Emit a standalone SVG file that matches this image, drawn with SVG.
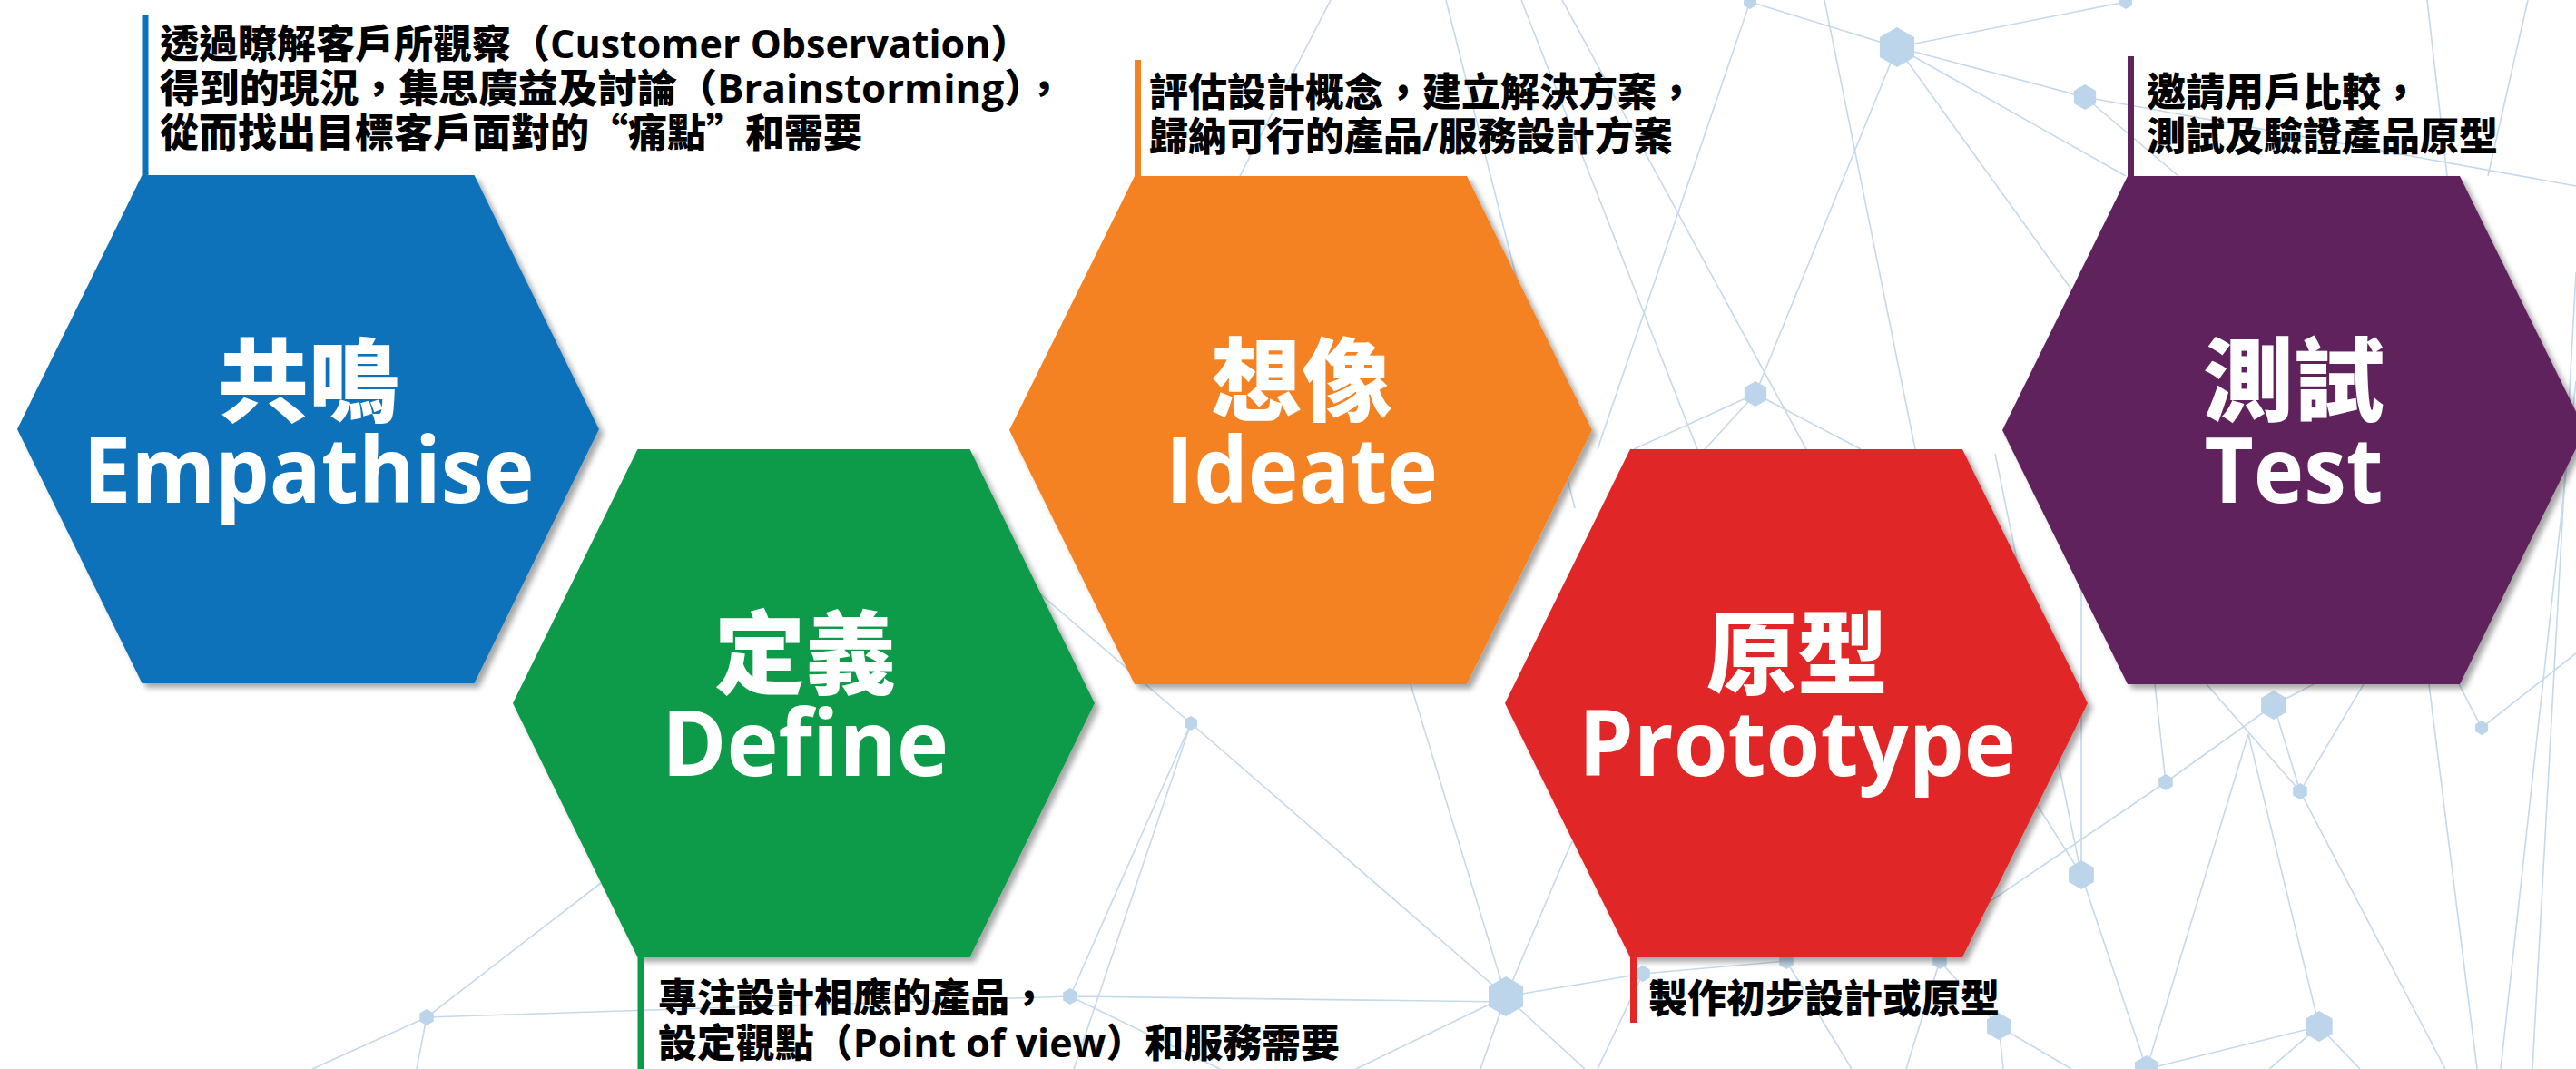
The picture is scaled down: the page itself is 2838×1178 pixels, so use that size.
<svg xmlns="http://www.w3.org/2000/svg" width="2838" height="1178" viewBox="0 0 2838 1178">
<defs>
<style>
.net line{stroke:#c5d9ea;stroke-width:1.6;fill:none}
.nd{fill:#bcd5ea}
.hex{filter:url(#sh)}
.cjk{font-family:"Noto Sans CJK TC","Noto Sans CJK SC",sans-serif;font-weight:900;fill:#fff;font-size:100px;text-anchor:middle}
.lat{font-family:"Open Sans","Noto Sans",sans-serif;font-weight:700;fill:#fff;font-size:100px;text-anchor:middle}
.ann{font-family:"Noto Sans CJK TC","Noto Sans CJK SC",sans-serif;font-weight:900;font-size:43px;fill:#000}
.en{font-family:"Open Sans","Noto Sans CJK TC",sans-serif;font-weight:700}
</style>
<filter id="sh" x="-10%" y="-10%" width="125%" height="125%"><feDropShadow dx="5" dy="5" stdDeviation="3" flood-color="#000" flood-opacity="0.35"/></filter>
<path id="hx" d="M0,-1L0.866,-0.5L0.866,0.5L0,1L-0.866,0.5L-0.866,-0.5Z"/>
</defs>
<rect width="2838" height="1178" fill="#fff"/>

<g id="background-network" class="net">
<line x1="1466" y1="0" x2="1366" y2="194"/>
<line x1="1593" y1="0" x2="1735" y2="560"/>
<line x1="1676" y1="0" x2="1870" y2="495"/>
<line x1="1721" y1="0" x2="1990" y2="495"/>
<line x1="1928" y1="2" x2="2090" y2="52"/>
<line x1="1928" y1="2" x2="1760" y2="495"/>
<line x1="2090" y1="52" x2="2342" y2="2"/>
<line x1="2090" y1="52" x2="2297" y2="107"/>
<line x1="2297" y1="107" x2="2838" y2="205"/>
<line x1="2090" y1="52" x2="1934" y2="434"/>
<line x1="2090" y1="52" x2="2342" y2="194"/>
<line x1="2090" y1="52" x2="2290" y2="330"/>
<line x1="1934" y1="434" x2="1800" y2="495"/>
<line x1="1934" y1="434" x2="1700" y2="690"/>
<line x1="1934" y1="434" x2="2050" y2="495"/>
<line x1="2297" y1="107" x2="2400" y2="194"/>
<line x1="2010" y1="0" x2="2110" y2="495"/>
<line x1="2674" y1="0" x2="2696" y2="194"/>
<line x1="2785" y1="0" x2="2741" y2="194"/>
<line x1="2838" y1="420" x2="2755" y2="1178"/>
<line x1="2838" y1="300" x2="2790" y2="1178"/>
<line x1="2676" y1="754" x2="2729" y2="1178"/>
<line x1="1312" y1="797" x2="1100" y2="615"/>
<line x1="1312" y1="797" x2="1179" y2="1098"/>
<line x1="1312" y1="797" x2="1659" y2="1098"/>
<line x1="1312" y1="797" x2="1183" y2="1178"/>
<line x1="1554" y1="754" x2="1659" y2="1098"/>
<line x1="1659" y1="1098" x2="1732" y2="927"/>
<line x1="1659" y1="1098" x2="1810" y2="1073"/>
<line x1="1659" y1="1098" x2="1494" y2="1178"/>
<line x1="1659" y1="1098" x2="1631" y2="1178"/>
<line x1="1659" y1="1098" x2="1746" y2="1178"/>
<line x1="1179" y1="1098" x2="1659" y2="1104"/>
<line x1="1179" y1="1098" x2="470" y2="1121"/>
<line x1="1179" y1="1098" x2="1344" y2="1178"/>
<line x1="470" y1="1121" x2="662" y2="973"/>
<line x1="470" y1="1121" x2="459" y2="1178"/>
<line x1="470" y1="1121" x2="344" y2="1178"/>
<line x1="1810" y1="1073" x2="1968" y2="1059"/>
<line x1="1810" y1="1073" x2="1760" y2="1178"/>
<line x1="1968" y1="1059" x2="2040" y2="1178"/>
<line x1="2137" y1="1059" x2="2100" y2="1178"/>
<line x1="2137" y1="1059" x2="2202" y2="1131"/>
<line x1="2202" y1="1131" x2="2207" y2="1178"/>
<line x1="2202" y1="1131" x2="2282" y2="1178"/>
<line x1="2431" y1="754" x2="2534" y2="872"/>
<line x1="2549" y1="754" x2="2505" y2="777"/>
<line x1="2505" y1="777" x2="2386" y2="862"/>
<line x1="2386" y1="862" x2="2150" y2="1022"/>
<line x1="2505" y1="777" x2="2534" y2="872"/>
<line x1="2534" y1="872" x2="2604" y2="754"/>
<line x1="2534" y1="872" x2="2694" y2="1178"/>
<line x1="2386" y1="862" x2="2374" y2="754"/>
<line x1="2477" y1="809" x2="2365" y2="1178"/>
<line x1="2477" y1="809" x2="2555" y2="1131"/>
<line x1="2293" y1="964" x2="2293" y2="649"/>
<line x1="2293" y1="964" x2="2365" y2="1178"/>
<line x1="2293" y1="964" x2="2198" y2="500"/>
<line x1="2293" y1="964" x2="2240" y2="880"/>
<line x1="2555" y1="1131" x2="2365" y2="1178"/>
<line x1="2555" y1="1131" x2="2500" y2="1178"/>
<line x1="2555" y1="1131" x2="2600" y2="1178"/>
<line x1="2709" y1="754" x2="2734" y2="802"/>
<line x1="2734" y1="802" x2="2838" y2="720"/>
<use href="#hx" class="nd" transform="translate(1928,2) scale(8)"/>
<use href="#hx" class="nd" transform="translate(2090,52) scale(22)"/>
<use href="#hx" class="nd" transform="translate(2297,107) scale(14)"/>
<use href="#hx" class="nd" transform="translate(2342,2) scale(8)"/>
<use href="#hx" class="nd" transform="translate(1934,434) scale(14)"/>
<use href="#hx" class="nd" transform="translate(1312,797) scale(8)"/>
<use href="#hx" class="nd" transform="translate(1179,1098) scale(9)"/>
<use href="#hx" class="nd" transform="translate(1659,1098) scale(22)"/>
<use href="#hx" class="nd" transform="translate(1810,1073) scale(9)"/>
<use href="#hx" class="nd" transform="translate(470,1121) scale(9)"/>
<use href="#hx" class="nd" transform="translate(2505,777) scale(16)"/>
<use href="#hx" class="nd" transform="translate(2386,862) scale(9)"/>
<use href="#hx" class="nd" transform="translate(2534,872) scale(9)"/>
<use href="#hx" class="nd" transform="translate(2734,802) scale(8)"/>
<use href="#hx" class="nd" transform="translate(2293,964) scale(16)"/>
<use href="#hx" class="nd" transform="translate(2555,1131) scale(17)"/>
<use href="#hx" class="nd" transform="translate(2202,1131) scale(15)"/>
<use href="#hx" class="nd" transform="translate(2365,1178) scale(15)"/>
<use href="#hx" class="nd" transform="translate(1968,1059) scale(9)"/>
<use href="#hx" class="nd" transform="translate(2137,1059) scale(9)"/>
</g>

<g id="empathise">
<polygon class="hex" fill="#0a72ba" points="156.5,193 522.5,193 660,473 522.5,753 156.5,753 19,473"/>
<rect x="156.5" y="17" width="7" height="176" fill="#0a72ba"/>
<text class="cjk" x="340" y="457">共鳴</text>
<text class="lat" x="340" y="554" textLength="497" lengthAdjust="spacingAndGlyphs">Empathise</text>
<text class="ann" x="176" y="64">透過瞭解客戶所觀察（<tspan class="en">Customer Observation</tspan>）</text>
<text class="ann" x="176" y="113" textLength="996" lengthAdjust="spacingAndGlyphs">得到的現況，集思廣益及討論（<tspan class="en">Brainstorming</tspan>），</text>
<text class="ann" x="176" y="162">從而找出目標客戶面對的“痛點”和需要</text>
</g>

<g id="define">
<polygon class="hex" fill="#0a9a4a" points="702.5,495 1068.5,495 1206,775 1068.5,1055 702.5,1055 565,775"/>
<rect x="702.5" y="1055" width="7" height="123" fill="#0a9a4a"/>
<text class="cjk" x="887" y="757">定義</text>
<text class="lat" x="887" y="855" textLength="316" lengthAdjust="spacingAndGlyphs">Define</text>
<text class="ann" x="725" y="1115">專注設計相應的產品，</text>
<text class="ann" x="725" y="1165" textLength="751" lengthAdjust="spacingAndGlyphs">設定觀點（<tspan class="en">Point of view</tspan>）和服務需要</text>
</g>

<g id="ideate">
<polygon class="hex" fill="#f58220" points="1250,194 1616,194 1754,474 1616,754 1250,754 1112,474"/>
<rect x="1250" y="66" width="7" height="128" fill="#f58220"/>
<text class="cjk" x="1434" y="456">想像</text>
<text class="lat" x="1434" y="554" textLength="300" lengthAdjust="spacingAndGlyphs">Ideate</text>
<text class="ann" x="1266" y="117">評估設計概念，建立解決方案，</text>
<text class="ann" x="1266" y="166">歸納可行的產品<tspan class="en">/</tspan>服務設計方案</text>
</g>

<g id="prototype">
<polygon class="hex" fill="#e02828" points="1796,495 2162,495 2300,775 2162,1055 1796,1055 1658,775"/>
<rect x="1796" y="1055" width="7" height="72" fill="#e02828"/>
<text class="cjk" x="1980" y="757">原型</text>
<text class="lat" x="1980" y="855" textLength="482" lengthAdjust="spacingAndGlyphs">Prototype</text>
<text class="ann" x="1816" y="1116">製作初步設計或原型</text>
</g>

<g id="test">
<polygon class="hex" fill="#5f235d" points="2344,194 2710,194 2848,474 2710,754 2344,754 2206,474"/>
<rect x="2344" y="62" width="7" height="132" fill="#5f235d"/>
<text class="cjk" x="2527" y="456">測試</text>
<text class="lat" x="2527" y="554" textLength="197" lengthAdjust="spacingAndGlyphs">Test</text>
<text class="ann" x="2365" y="117">邀請用戶比較，</text>
<text class="ann" x="2365" y="166">測試及驗證產品原型</text>
</g>
</svg>
